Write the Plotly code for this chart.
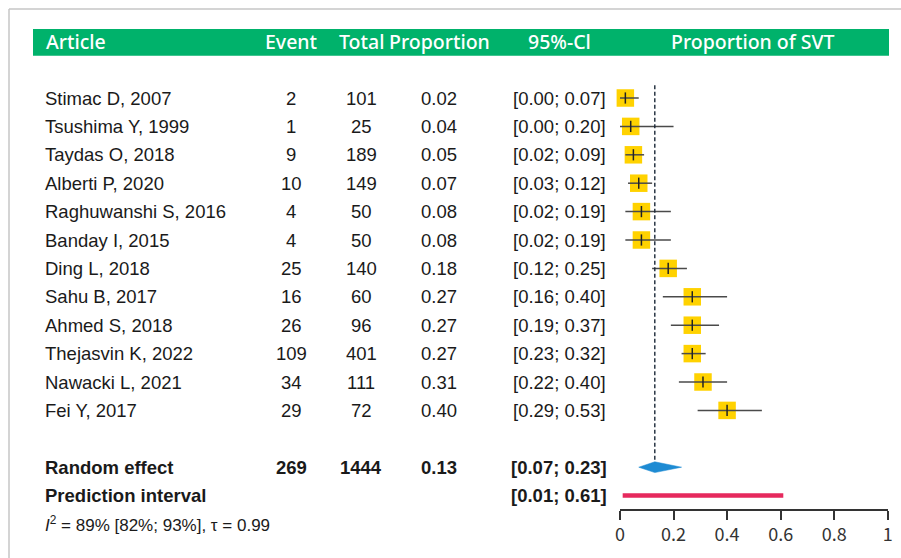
import plotly.graph_objects as go

# ---- study data -------------------------------------------------------
articles = [
    "Stimac D, 2007", "Tsushima Y, 1999", "Taydas O, 2018", "Alberti P, 2020",
    "Raghuwanshi S, 2016", "Banday I, 2015", "Ding L, 2018", "Sahu B, 2017",
    "Ahmed S, 2018", "Thejasvin K, 2022", "Nawacki L, 2021", "Fei Y, 2017",
]
events = [2, 1, 9, 10, 4, 4, 25, 16, 26, 109, 34, 29]
totals = [101, 25, 189, 149, 50, 50, 140, 60, 96, 401, 111, 72]
proportions = [0.02, 0.04, 0.05, 0.07, 0.08, 0.08, 0.18, 0.27, 0.27, 0.27, 0.31, 0.40]
ci_low = [0.00, 0.00, 0.02, 0.03, 0.02, 0.02, 0.12, 0.16, 0.19, 0.23, 0.22, 0.29]
ci_high = [0.07, 0.20, 0.09, 0.12, 0.19, 0.19, 0.25, 0.40, 0.37, 0.32, 0.40, 0.53]

# ---- pooled results ---------------------------------------------------
pooled_events = 269
pooled_total = 1444
pooled_est = 0.13
pooled_low, pooled_high = 0.07, 0.23
pred_low, pred_high = 0.01, 0.61
heterogeneity = "<i>I</i><sup>2</sup> = 89% [82%; 93%], \u03c4 = 0.99"

headers = ["Article", "Event", "Total", "Proportion", "95%-Cl", "Proportion of SVT"]
x_ticks = [0, 0.2, 0.4, 0.6, 0.8, 1]
x_tick_labels = ["0", "0.2", "0.4", "0.6", "0.8", "1"]

# ---- layout geometry (pixels) ------------------------------------------
W, H = 901, 558
ROW0_PX, PITCH = 98.0, 28.4          # first study row and row spacing
AX_LEFT, AX_RIGHT = 620.0, 887.7     # forest axis 0 .. 1
AXIS_LINE_PX = 510.0

row_head = -2
rows = list(range(len(articles)))
row_pooled = len(articles) + 1
row_pred = row_pooled + 1
row_het = row_pred + 1

col_article = 43
col_event = 291
col_total = 361
col_prop = 439
col_ci = 559
col_forest = 753

BODY_FONT = dict(family="Liberation Sans, Arial, sans-serif", size=18.5, color="#1a1a1a")
BOLD_FONT = dict(BODY_FONT, weight="bold")
HEAD_FONT = dict(family="Noto Sans, Open Sans, sans-serif", size=19.5, color="white", weight=500)

GREEN = "#00b26b"
YELLOW = "#ffd200"
BLUE = "#1e8bd3"
RED = "#e6295d"


def px(x):
    return x / W


def fmt(v):
    return f"{v:.2f}"


fig = go.Figure()

# study boxes
fig.add_trace(go.Scatter(
    x=proportions, y=rows, mode="markers",
    marker=dict(symbol="square", size=17.5, color=YELLOW, line=dict(width=0)),
    cliponaxis=False, hoverinfo="skip",
))

# confidence interval whiskers
wx, wy = [], []
for r, lo, hi in zip(rows, ci_low, ci_high):
    wx += [lo, hi, None]
    wy += [r, r, None]
fig.add_trace(go.Scatter(
    x=wx, y=wy, mode="lines", line=dict(color="#4a4a4a", width=1.5),
    cliponaxis=False, hoverinfo="skip",
))

# point-estimate ticks
fig.add_trace(go.Scatter(
    x=proportions, y=rows, mode="markers",
    marker=dict(symbol="line-ns", size=8, line=dict(color="#222222", width=1.5)),
    cliponaxis=False, hoverinfo="skip",
))

# pooled estimate reference line
fig.add_trace(go.Scatter(
    x=[pooled_est, pooled_est], y=[-0.45, row_pooled - 0.15], mode="lines",
    line=dict(color="#1b2838", width=1.4, dash="4px,2.5px"),
    cliponaxis=False, hoverinfo="skip",
))

# random-effect diamond
half_h = 0.19
fig.add_trace(go.Scatter(
    x=[pooled_low, pooled_est, pooled_high, pooled_est, pooled_low],
    y=[row_pooled, row_pooled - half_h, row_pooled, row_pooled + half_h, row_pooled],
    mode="lines", fill="toself", fillcolor=BLUE, line=dict(color=BLUE, width=0.5),
    cliponaxis=False, hoverinfo="skip",
))

# prediction interval bar
fig.add_trace(go.Scatter(
    x=[pred_low, pred_high], y=[row_pred, row_pred], mode="lines",
    line=dict(color=RED, width=4.5), cliponaxis=False, hoverinfo="skip",
))

annotations = []


def label(text, x, row, anchor="center", font=BODY_FONT):
    annotations.append(dict(
        text=text, x=px(x), y=row, xref="paper", yref="y",
        xanchor=anchor, yanchor="middle", showarrow=False, font=font,
    ))


# header row
label(headers[0], 44, row_head, "left", HEAD_FONT)
for text, cx in zip(headers[1:], [col_event, col_total, col_prop, col_ci, col_forest]):
    label(text, cx, row_head, "center", HEAD_FONT)

# study rows
for r, a, e, t, p, lo, hi in zip(rows, articles, events, totals, proportions, ci_low, ci_high):
    label(a, col_article, r, "left")
    label(str(e), col_event, r)
    label(str(t), col_total, r)
    label(fmt(p), col_prop, r)
    label(f"[{fmt(lo)}; {fmt(hi)}]", col_ci, r)

# pooled rows
label("Random effect", col_article, row_pooled, "left", BOLD_FONT)
label(str(pooled_events), col_event, row_pooled, font=BOLD_FONT)
label(str(pooled_total), col_total, row_pooled, font=BOLD_FONT)
label(fmt(pooled_est), col_prop, row_pooled, font=BOLD_FONT)
label(f"[{fmt(pooled_low)}; {fmt(pooled_high)}]", col_ci, row_pooled, font=BOLD_FONT)
label("Prediction interval", col_article, row_pred, "left", BOLD_FONT)
label(f"[{fmt(pred_low)}; {fmt(pred_high)}]", col_ci, row_pred, font=BOLD_FONT)
label(heterogeneity, col_article, row_het, "left", dict(BODY_FONT, size=17))

shapes = [
    # header band
    dict(type="rect", xref="paper", yref="y", x0=px(33), x1=px(889),
         y0=(29 - ROW0_PX) / PITCH, y1=(55.7 - ROW0_PX) / PITCH,
         fillcolor=GREEN, line=dict(width=0), layer="below"),
    # outer frame edges
    dict(type="line", xref="paper", yref="paper", x0=px(9), x1=1.0,
         y0=1 - 9 / H, y1=1 - 9 / H, line=dict(color="#c6c6c6", width=1.5)),
    dict(type="line", xref="paper", yref="paper", x0=px(9), x1=px(9),
         y0=0, y1=1 - 9 / H, line=dict(color="#c6c6c6", width=1.5)),
]

fig.update_layout(
    width=W, height=H, margin=dict(l=0, r=0, t=0, b=0, autoexpand=False),
    paper_bgcolor="white", plot_bgcolor="white", showlegend=False,
    annotations=annotations, shapes=shapes,
    xaxis=dict(
        domain=[px(AX_LEFT), px(AX_RIGHT)], range=[0, 1], anchor="free",
        position=(H - AXIS_LINE_PX) / H,
        showgrid=False, zeroline=False, showline=True, linecolor="#333333", linewidth=1.5,
        ticks="outside", ticklen=9, tickwidth=1.5, tickcolor="#333333",
        tickvals=x_ticks, ticktext=x_tick_labels,
        tickfont=dict(family="Noto Sans CJK SC, Noto Sans, sans-serif", size=18, color="#333333"),
        fixedrange=True,
    ),
    yaxis=dict(
        domain=[0, 1], range=[(H - ROW0_PX) / PITCH, -ROW0_PX / PITCH],
        visible=False, fixedrange=True,
    ),
)

fig.write_html("out.html")
